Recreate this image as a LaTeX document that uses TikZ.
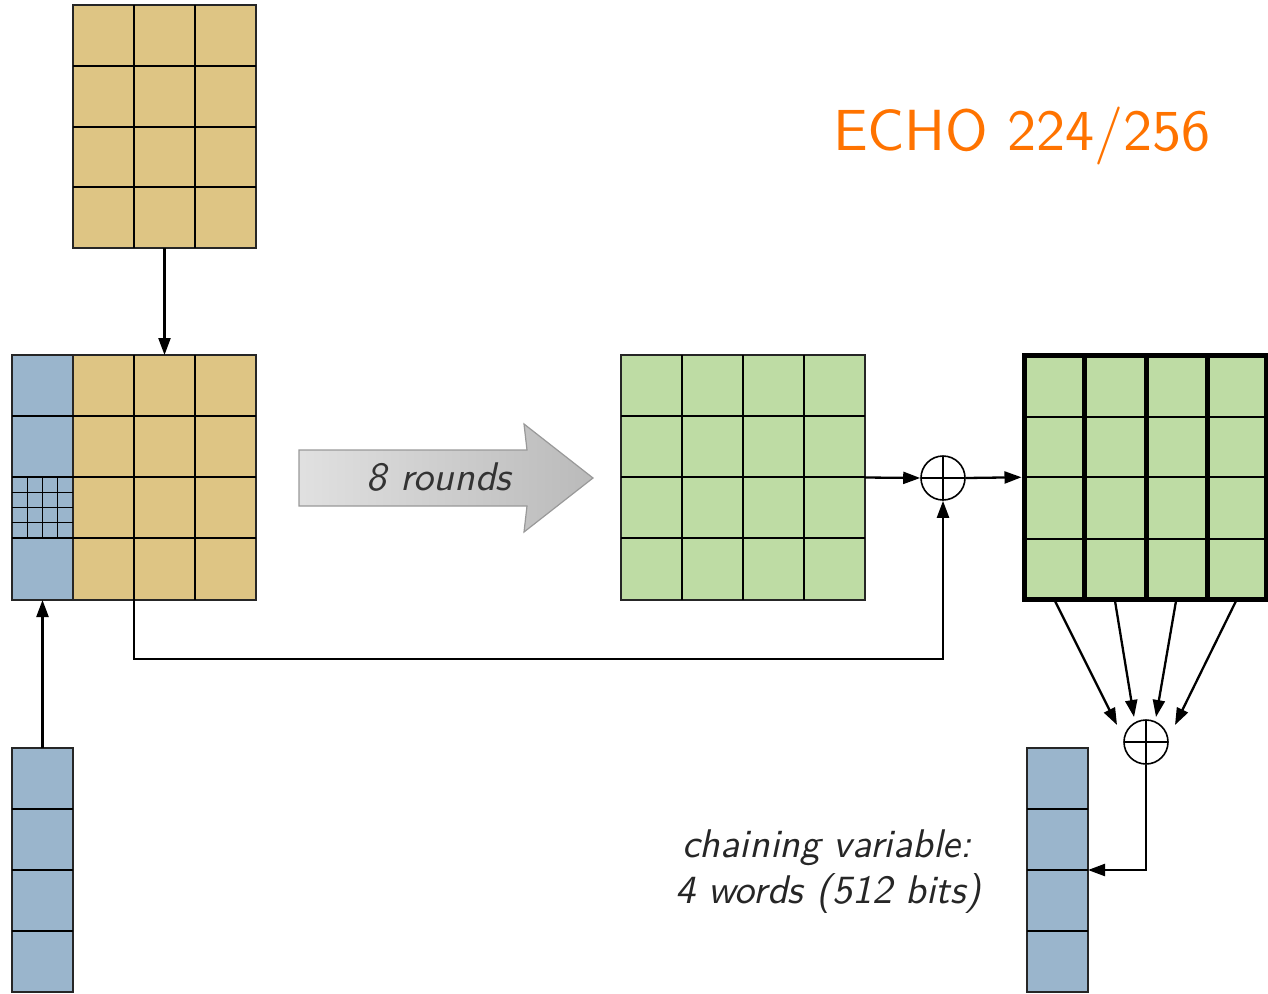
\documentclass[tikz,border=0pt]{standalone}
\usepackage{fontspec}
\newfontfamily\lmsten{lmsans10-regular.otf}[ItalicFont=lmsans10-oblique.otf]
\usetikzlibrary{arrows.meta,calc}
\definecolor{tanc}{HTML}{DEC584}
\definecolor{cvblue}{HTML}{9AB5CC}
\definecolor{stgreen}{HTML}{BEDCA4}
\definecolor{echoorange}{HTML}{FF7300}
\begin{document}
\begin{tikzpicture}[x=1pt,y=-1pt,
  gridline/.style={line width=1.4pt, black},
  fineline/.style={line width=1.3pt, black},
  box/.style={draw=black!85, line width=1.4pt, inner sep=0pt, outer sep=0pt, anchor=north west},
  arr/.style={line width=2.3pt, -{Triangle[length=17pt,width=12pt]}},
  xor/.style={circle, draw, line width=1.6pt, minimum size=44pt, inner sep=0pt,
    path picture={\draw[line width=1.6pt] (path picture bounding box.north) -- (path picture bounding box.south)
      (path picture bounding box.west) -- (path picture bounding box.east);}},
  txt/.style={font=\lmsten\itshape\fontsize{40}{46}\selectfont, text=black!85, inner sep=0pt},
]
\useasboundingbox (0,0) rectangle (1268,993);

% top message block
\node[box, fill=tanc, minimum width=183pt, minimum height=243pt] (top) at (73,5) {};
\foreach \x in {134,195} \draw[gridline] (\x,5) -- (\x,248);
\foreach \y in {66,127,187} \draw[gridline] (73,\y) -- (256,\y);

% main state: chaining column + message
\node[box, fill=cvblue, minimum width=61pt, minimum height=245pt] (cvin) at (12,355) {};
\node[box, fill=tanc, minimum width=183pt, minimum height=245pt] (msg) at (73,355) {};
\foreach \x in {134,195} \draw[gridline] (\x,355) -- (\x,600);
\foreach \y in {416,477,538} \draw[gridline] (12,\y) -- (256,\y);
\foreach \x in {27.25,42.5,57.75} \draw[fineline] (\x,477) -- (\x,538);
\foreach \y in {492.25,507.5,522.75} \draw[fineline] (12,\y) -- (73,\y);

% chaining variable input
\node[box, fill=cvblue, minimum width=61pt, minimum height=244pt] (cvsrc) at (12,748) {};
\foreach \y in {809,870,931} \draw[gridline] (12,\y) -- (73,\y);

% 8 rounds arrow
\path[draw=black!40, line width=1.2pt, left color=black!12, right color=black!27]
  (299,450) -- (527,450) -- (524,424) -- (593,478) -- (524,532) -- (527,506) -- (299,506) -- cycle;
\node[txt, anchor=base, text=black!80] (rounds) at (439,490) {8 rounds};

% state after rounds
\node[box, fill=stgreen, minimum width=244pt, minimum height=245pt] (state) at (621,355) {};
\foreach \x in {682,743,804} \draw[gridline] (\x,355) -- (\x,600);
\foreach \y in {416,477,538} \draw[gridline] (621,\y) -- (865,\y);

% output state with thick columns
\node[box, fill=stgreen, draw=none, minimum width=242pt, minimum height=243.5pt] (out) at (1024,355.5) {};
\foreach \y in {417,477,539} \draw[gridline] (1024,\y) -- (1266,\y);
\foreach \x in {1084,1146,1207} \draw[line width=5pt] (\x,355.5) -- (\x,599);
\draw[line width=5pt] (out.north west) rectangle (out.south east);

% chaining variable output
\node[box, fill=cvblue, minimum width=61pt, minimum height=244pt] (cvout) at (1027,748) {};
\foreach \y in {809,870,931} \draw[gridline] (1027,\y) -- (1088,\y);

% xors
\node[xor] (x1) at (943,478) {};
\node[xor] (x2) at (1146,742) {};

% connectors
\draw[arr] (top.south) -- (msg.north);
\draw[arr] (cvsrc.north) -- (cvin.south);
\draw[arr] (state.east) -- (x1.west);
\draw[arr] (x1.east) -- ([xshift=-2.5pt]out.west);
\coordinate (lstart) at ($(msg.south west)+(61,0)$);
\draw[arr] (lstart) -- ++(0,59) -| (x1.south);

\coordinate (s1) at (1055,601); \coordinate (e1) at (1117,725);
\coordinate (s2) at (1115,601); \coordinate (e2) at (1134,717);
\coordinate (s3) at (1176,601); \coordinate (e3) at (1156,717);
\coordinate (s4) at (1236,601); \coordinate (e4) at (1175,725);
\foreach \i in {1,2,3,4} \draw[arr] (s\i) -- (e\i);
\draw[arr] (x2.south) |- (cvout.east);

% texts
\node[txt, anchor=base] (lab1) at (827,857) {chaining variable:};
\node[txt, anchor=base] (lab2) at (828,903) {4 words (512 bits)};
\node[font=\lmsten\fontsize{58}{70}\selectfont, text=echoorange, anchor=base, inner sep=0pt] (title) at (1022,150) {ECHO 224/256};
\end{tikzpicture}
\end{document}
